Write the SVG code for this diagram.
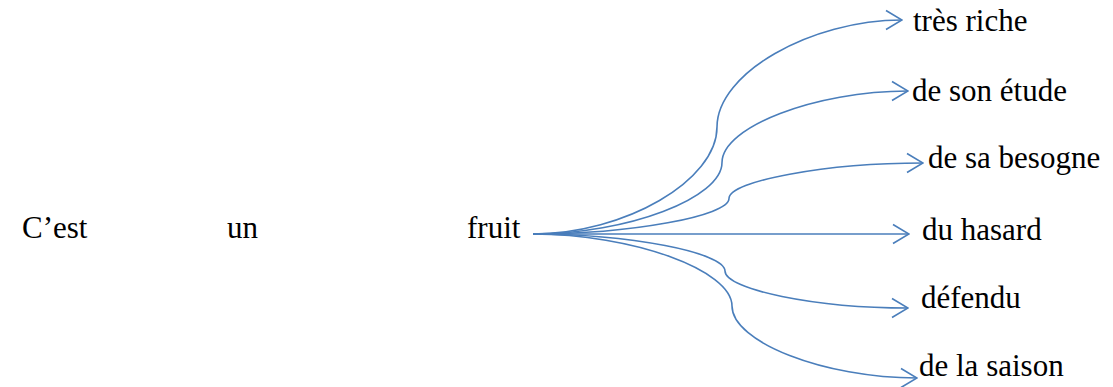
<svg xmlns="http://www.w3.org/2000/svg" width="1113" height="387" viewBox="0 0 1113 387">
  <style>
    .t { font-family: 'Liberation Serif', Tinos, 'Times New Roman', 'DejaVu Serif', serif; font-size: 31px; fill: #000; }
    .c { fill: none; stroke: #4A7EBB; stroke-width: 1.6; marker-end: url(#ah); }
  </style>
  <defs>
    <marker id="ah" markerUnits="userSpaceOnUse" viewBox="0 0 18 22" refX="17" refY="11" markerWidth="18" markerHeight="22" orient="auto">
      <path d="M1,1.5 L17,11 L1,20.5" fill="none" stroke="#4A7EBB" stroke-width="1.6"/>
    </marker>
  </defs>
  <rect width="1113" height="387" fill="#fff"/>
  <g id="cest"><text class="t" x="22" y="238">C’est</text></g>
  <g id="un"><text class="t" x="227" y="238">un</text></g>
  <g id="fruit"><text class="t" x="467" y="238">fruit</text></g>
  <g id="tres-riche"><text class="t" x="913" y="31">très riche</text></g>
  <g id="de-son-etude"><text class="t" x="912" y="101">de son étude</text></g>
  <g id="de-sa-besogne"><text class="t" x="928" y="168">de sa besogne</text></g>
  <g id="du-hasard"><text class="t" x="922" y="240">du hasard</text></g>
  <g id="defendu"><text class="t" x="921" y="308">défendu</text></g>
  <g id="de-la-saison"><text class="t" x="919" y="376">de la saison</text></g>
  <g id="connectors">
    <path class="c" d="M533,234 C625,234 717,180.5 717,127 C717,73.5 810,20 902,20"/>
    <path class="c" d="M533,234 C628,234 722,198 722,162.5 C722,127 815,91 908,91"/>
    <path class="c" d="M533,234 C631,234 729,216 729,198.5 C729,181 826,163 923,163"/>
    <path class="c" d="M533,234 L909,234"/>
    <path class="c" d="M533,234 C629,234 725,252.5 725,271 C725,289.5 816,308 908,308"/>
    <path class="c" d="M533,234 C632,234 732,270 732,306 C732,342 824,378 917,378"/>
  </g>
</svg>
